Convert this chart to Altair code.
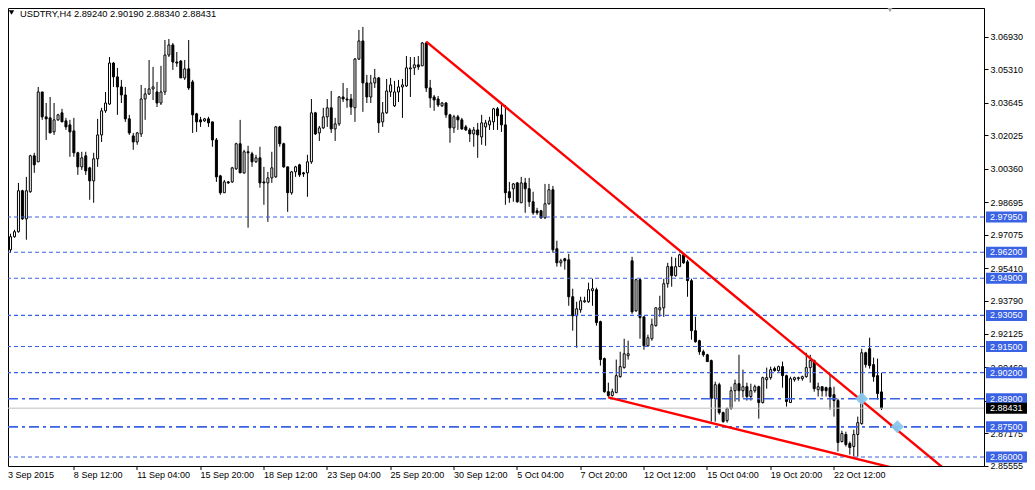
import altair as alt
import pandas as pd

# ---------------- data (USDTRY, H4) ----------------
opens = [2.9632, 2.9697, 2.9722, 2.9926, 2.9786, 2.9921, 3.0100, 3.0070, 3.0418, 3.0294,
         3.0289, 3.0219, 3.0279, 3.0314, 3.0274, 3.0254, 3.0224, 3.0115, 3.0045, 3.0100,
         3.0040, 2.9975, 3.0085, 3.0204, 3.0324, 3.0358, 3.0562, 3.0493, 3.0443, 3.0403,
         3.0284, 3.0199, 3.0169, 3.0209, 3.0383, 3.0408, 3.0433, 3.0418, 3.0363, 3.0418,
         3.0602, 3.0652, 3.0567, 3.0572, 3.0488, 3.0533, 3.0468, 3.0309, 3.0279, 3.0274,
         3.0284, 3.0269, 3.0179, 3.0000, 2.9916, 2.9970, 2.9970, 3.0035, 3.0160, 3.0015,
         3.0120, 3.0110, 3.0070, 3.0090, 2.9970, 2.9965, 2.9990, 2.9995, 3.0244, 3.0160,
         3.0045, 2.9916, 3.0020, 3.0055, 3.0015, 3.0015, 3.0070, 3.0314, 3.0214, 3.0239,
         3.0294, 3.0339, 3.0234, 3.0259, 3.0393, 3.0383, 3.0383, 3.0339, 3.0582, 3.0672,
         3.0463, 3.0393, 3.0463, 3.0488, 3.0269, 3.0314, 3.0418, 3.0349, 3.0418, 3.0443,
         3.0448, 3.0533, 3.0538, 3.0553, 3.0548, 3.0662, 3.0438, 3.0393, 3.0383, 3.0349,
         3.0363, 3.0304, 3.0239, 3.0294, 3.0279, 3.0244, 3.0229, 3.0209, 3.0229, 3.0194,
         3.0244, 3.0254, 3.0269, 3.0334, 3.0304, 3.0254, 2.9921, 2.9936, 2.9965, 2.9866,
         2.9965, 2.9936, 2.9871, 2.9826, 2.9826, 2.9791, 2.9861, 2.9931, 2.9637, 2.9567,
         2.9587, 2.9582, 2.9398, 2.9303, 2.9333, 2.9373, 2.9373, 2.9428, 2.9433, 2.9274,
         2.9090, 2.8925, 2.8906, 2.8920, 2.9000, 2.9045, 2.9104, 2.9577, 2.9328, 2.9483,
         2.9298, 2.9154, 2.9189, 2.9254, 2.9333, 2.9343, 2.9463, 2.9548, 2.9503, 2.9548,
         2.9607, 2.9572, 2.9478, 2.9229, 2.9179, 2.9124, 2.9109, 2.9080, 2.8891, 2.8960,
         2.8821, 2.8781, 2.8841, 2.8930, 2.8965, 2.8930, 2.8950, 2.8901, 2.8930, 2.8950,
         2.8871, 2.8985, 2.8995, 2.9040, 2.9030, 2.9050, 2.9005, 2.8871, 2.8985, 2.8990,
         2.8990, 2.9000, 2.9045, 2.9080, 2.8935, 2.8950, 2.8945, 2.8945, 2.8910, 2.8881,
         2.8677, 2.8712, 2.8667, 2.8652, 2.8712, 2.8766, 2.9119, 2.9139, 2.9060, 2.9005,
         2.89240]
highs = [2.9712, 2.9732, 2.9965, 2.9931, 2.9995, 3.0105, 3.0115, 3.0443, 3.0418, 3.0363,
         3.0393, 3.0363, 3.0309, 3.0334, 3.0289, 3.0279, 3.0289, 3.0120, 3.0120, 3.0120,
         3.0045, 3.0115, 3.0284, 3.0339, 3.0418, 3.0592, 3.0567, 3.0538, 3.0478, 3.0443,
         3.0304, 3.0214, 3.0219, 3.0453, 3.0438, 3.0577, 3.0543, 3.0468, 3.0548, 3.0677,
         3.0682, 3.0662, 3.0617, 3.0577, 3.0577, 3.0677, 3.0478, 3.0314, 3.0294, 3.0289,
         3.0294, 3.0269, 3.0189, 3.0005, 2.9980, 2.9975, 3.0045, 3.0165, 3.0279, 3.0130,
         3.0150, 3.0120, 3.0105, 3.0145, 3.0045, 3.0020, 3.0120, 3.0249, 3.0249, 3.0165,
         3.0045, 3.0025, 3.0050, 3.0060, 3.0020, 3.0105, 3.0383, 3.0319, 3.0249, 3.0339,
         3.0383, 3.0423, 3.0289, 3.0398, 3.0463, 3.0438, 3.0408, 3.0587, 3.0727, 3.0742,
         3.0503, 3.0503, 3.0533, 3.0493, 3.0368, 3.0483, 3.0488, 3.0473, 3.0478, 3.0483,
         3.0597, 3.0592, 3.0592, 3.0597, 3.0667, 3.0669, 3.0478, 3.0403, 3.0398, 3.0368,
         3.0368, 3.0309, 3.0304, 3.0304, 3.0289, 3.0254, 3.0239, 3.0244, 3.0264, 3.0304,
         3.0279, 3.0294, 3.0339, 3.0343, 3.0353, 3.0353, 2.9970, 2.9965, 2.9970, 2.9995,
         2.9990, 2.9990, 2.9921, 2.9841, 2.9831, 2.9960, 2.9960, 2.9950, 2.9677, 2.9587,
         2.9592, 2.9612, 2.9438, 2.9373, 2.9398, 2.9398, 2.9468, 2.9488, 2.9443, 2.9279,
         2.9095, 2.8970, 2.8940, 2.9085, 2.9124, 2.9189, 2.9179, 2.9597, 2.9488, 2.9488,
         2.9298, 2.9209, 2.9289, 2.9343, 2.9403, 2.9488, 2.9567, 2.9597, 2.9592, 2.9612,
         2.9617, 2.9582, 2.9488, 2.9298, 2.9184, 2.9134, 2.9114, 2.9085, 2.8975, 2.8970,
         2.8826, 2.8846, 2.8950, 2.8985, 2.9109, 2.9035, 2.8970, 2.8965, 2.8960, 2.8955,
         2.9000, 2.9045, 2.9050, 2.9050, 2.9055, 2.9075, 2.9010, 2.9000, 2.9000, 2.9000,
         2.9005, 2.9119, 2.9109, 2.9085, 2.8970, 2.8950, 2.8950, 2.9010, 2.8950, 2.8891,
         2.8731, 2.8726, 2.8677, 2.8736, 2.8801, 2.9139, 2.9124, 2.9194, 2.9095, 2.9090,
         2.90190]
lows = [2.9617, 2.9692, 2.9717, 2.9781, 2.9682, 2.9916, 3.0015, 3.0070, 3.0279, 3.0179,
        3.0214, 3.0204, 3.0274, 3.0269, 3.0229, 3.0095, 3.0095, 3.0005, 3.0030, 3.0005,
        2.9881, 2.9866, 3.0045, 3.0169, 3.0314, 3.0353, 3.0443, 3.0304, 3.0363, 3.0269,
        3.0204, 3.0130, 3.0155, 3.0194, 3.0279, 3.0403, 3.0378, 3.0343, 3.0353, 3.0403,
        3.0592, 3.0528, 3.0543, 3.0488, 3.0478, 3.0428, 3.0214, 3.0219, 3.0244, 3.0269,
        3.0244, 3.0145, 2.9970, 2.9906, 2.9916, 2.9960, 2.9965, 3.0030, 3.0015, 3.0010,
        2.9742, 3.0045, 3.0065, 2.9941, 2.9856, 2.9771, 2.9965, 2.9990, 3.0145, 3.0040,
        2.9821, 2.9906, 2.9995, 2.9995, 2.9995, 2.9896, 3.0060, 3.0204, 3.0174, 3.0234,
        3.0244, 3.0214, 3.0174, 3.0249, 3.0368, 3.0339, 3.0304, 3.0269, 3.0577, 3.0319,
        3.0363, 3.0363, 3.0438, 3.0214, 3.0244, 3.0309, 3.0393, 3.0343, 3.0368, 3.0289,
        3.0443, 3.0393, 3.0503, 3.0528, 3.0548, 3.0418, 3.0339, 3.0324, 3.0343, 3.0343,
        3.0289, 3.0165, 3.0214, 3.0229, 3.0229, 3.0224, 3.0169, 3.0145, 3.0090, 3.0155,
        3.0150, 3.0229, 3.0229, 3.0229, 3.0219, 2.9856, 2.9866, 2.9871, 2.9866, 2.9866,
        2.9816, 2.9846, 2.9806, 2.9806, 2.9786, 2.9786, 2.9856, 2.9617, 2.9548, 2.9548,
        2.9533, 2.9353, 2.9229, 2.9144, 2.9318, 2.9368, 2.9368, 2.9353, 2.9254, 2.9055,
        2.8920, 2.8897, 2.8901, 2.8920, 2.8995, 2.9040, 2.9085, 2.9313, 2.9323, 2.9189,
        2.9134, 2.9149, 2.9179, 2.9249, 2.9298, 2.9298, 2.9443, 2.9448, 2.9498, 2.9548,
        2.9562, 2.9398, 2.9184, 2.9169, 2.9109, 2.9099, 2.9075, 2.8776, 2.8776, 2.8811,
        2.8771, 2.8771, 2.8836, 2.8876, 2.8876, 2.8896, 2.8881, 2.8881, 2.8920, 2.8791,
        2.8866, 2.8940, 2.8985, 2.9025, 2.9025, 2.8945, 2.8851, 2.8871, 2.8975, 2.8980,
        2.8980, 2.8995, 2.8970, 2.8925, 2.8901, 2.8901, 2.8901, 2.8836, 2.8801, 2.8627,
        2.8672, 2.8652, 2.8612, 2.8602, 2.8602, 2.8761, 2.9045, 2.9040, 2.8975, 2.8886,
        2.88340]
closes = [2.9697, 2.9722, 2.9926, 2.9786, 2.9926, 3.0100, 3.0055, 3.0418, 3.0294, 3.0284,
          3.0214, 3.0279, 3.0304, 3.0269, 3.0244, 3.0219, 3.0115, 3.0045, 3.0090, 3.0025,
          2.9975, 3.0085, 3.0204, 3.0324, 3.0363, 3.0562, 3.0493, 3.0443, 3.0403, 3.0284,
          3.0214, 3.0169, 3.0214, 3.0383, 3.0408, 3.0433, 3.0443, 3.0363, 3.0418, 3.0602,
          3.0652, 3.0567, 3.0562, 3.0488, 3.0533, 3.0438, 3.0304, 3.0269, 3.0269, 3.0284,
          3.0264, 3.0179, 2.9995, 2.9916, 2.9970, 2.9965, 3.0040, 3.0160, 3.0015, 3.0120,
          3.0115, 3.0070, 3.0090, 2.9965, 2.9965, 2.9990, 3.0040, 3.0244, 3.0160, 3.0045,
          2.9916, 3.0020, 3.0045, 3.0005, 3.0010, 3.0070, 3.0314, 3.0209, 3.0239, 3.0294,
          3.0339, 3.0234, 3.0259, 3.0393, 3.0383, 3.0378, 3.0343, 3.0582, 3.0672, 3.0463,
          3.0393, 3.0463, 3.0488, 3.0264, 3.0314, 3.0423, 3.0453, 3.0418, 3.0443, 3.0453,
          3.0538, 3.0538, 3.0553, 3.0543, 3.0662, 3.0438, 3.0388, 3.0378, 3.0353, 3.0363,
          3.0304, 3.0239, 3.0294, 3.0279, 3.0234, 3.0229, 3.0209, 3.0229, 3.0204, 3.0264,
          3.0264, 3.0274, 3.0334, 3.0299, 3.0254, 2.9916, 2.9891, 2.9960, 2.9871, 2.9965,
          2.9936, 2.9871, 2.9816, 2.9816, 2.9791, 2.9861, 2.9931, 2.9632, 2.9567, 2.9577,
          2.9577, 2.9398, 2.9303, 2.9338, 2.9378, 2.9378, 2.9433, 2.9438, 2.9269, 2.9085,
          2.8925, 2.8906, 2.8925, 2.9005, 2.9050, 2.9114, 2.9114, 2.9323, 2.9483, 2.9294,
          2.9154, 2.9194, 2.9259, 2.9343, 2.9343, 2.9463, 2.9548, 2.9503, 2.9548, 2.9607,
          2.9567, 2.9478, 2.9229, 2.9174, 2.9124, 2.9109, 2.9075, 2.8891, 2.8960, 2.8821,
          2.8776, 2.8841, 2.8930, 2.8965, 2.8930, 2.8950, 2.8901, 2.8930, 2.8950, 2.8871,
          2.8995, 2.8995, 2.9035, 2.9030, 2.9050, 2.9005, 2.8876, 2.8990, 2.8995, 2.8995,
          2.9000, 2.9045, 2.9080, 2.8940, 2.8950, 2.8930, 2.8930, 2.8901, 2.8881, 2.8672,
          2.8717, 2.8662, 2.8647, 2.8712, 2.8771, 2.9119, 2.9060, 2.9055, 2.9000, 2.8916,
          2.88431]

date_labels = ["3 Sep 2015", "8 Sep 12:00", "11 Sep 04:00", "15 Sep 20:00", "18 Sep 12:00",
               "23 Sep 04:00", "25 Sep 20:00", "30 Sep 12:00", "5 Oct 04:00", "7 Oct 20:00",
               "12 Oct 12:00", "15 Oct 04:00", "19 Oct 20:00", "22 Oct 12:00"]
label_step = 16

price_ticks = [3.06930, 3.05310, 3.03645, 3.02025, 3.00360, 2.98695, 2.97075, 2.95410,
               2.93790, 2.92125, 2.90460, 2.88795, 2.87175, 2.85555]

dash_levels = [2.97950, 2.96200, 2.94900, 2.93050, 2.91500, 2.90200, 2.86000]
dashdot_levels = [2.88900, 2.87500]
last_price = 2.88431

trend_upper_i = [105, 246]
trend_upper_p = [3.0669, 2.8376]
trend_lower_i = [151, 246]
trend_lower_p = [2.8897, 2.8433]

marker_i = [215, 224]
marker_p = [2.8890, 2.8750]

title_text = "USDTRY,H4  2.89240 2.90190 2.88340 2.88431"

# ---------------- chart ----------------
W, H = 976, 458
FONT = "Liberation Sans"
BLUE = "#3A62E4"

candles = pd.DataFrame({"i": list(range(len(opens))), "open": opens, "high": highs,
                        "low": lows, "close": closes})

x_scale = alt.Scale(domain=[0.625, 0.625 + W / 4.0], nice=False, zero=False)
y_scale = alt.Scale(domain=[2.8555, 3.08362], nice=False, zero=False)

label_array = "[" + ",".join("'" + s + "'" for s in date_labels) + "]"
x_axis = alt.Axis(values=[label_step * k for k in range(1, len(date_labels))],
                  labelExpr=label_array + "[round(datum.value/" + str(label_step) + ")]",
                  title=None, grid=False, domain=False, tickSize=4, tickColor="black",
                  labelAlign="left", labelBaseline="top", labelPadding=1,
                  labelFont=FONT, labelFontSize=9, labelColor="black",
                  labelOverlap=False, labelFlush=False, translate=0)
y_axis = alt.Axis(orient="right", values=price_ticks, format=".5f", title=None, grid=False,
                  domain=True, domainColor="black", tickSize=4, tickColor="black",
                  labelPadding=2, labelFont=FONT, labelFontSize=9, labelColor="black",
                  labelOverlap=False, labelFlush=False)

X = alt.X("i:Q", scale=x_scale, axis=x_axis)

wicks = alt.Chart(candles).mark_rule(color="black", strokeWidth=1, clip=True).encode(
    x=X, y=alt.Y("low:Q", scale=y_scale, axis=y_axis), y2="high:Q")

bodies = alt.Chart(candles).mark_bar(width=2, stroke="black", strokeWidth=1, clip=True).encode(
    x=X, y=alt.Y("open:Q", scale=y_scale, axis=y_axis), y2="close:Q",
    fill=alt.condition("datum.close > datum.open", alt.value("white"), alt.value("black")))

bid_line = alt.Chart(pd.DataFrame({"p": [last_price]})).mark_rule(
    color="#C0C0C0", strokeWidth=1).encode(y=alt.Y("p:Q", scale=y_scale, axis=y_axis))

dash_lines = alt.Chart(pd.DataFrame({"p": dash_levels})).mark_rule(
    color=BLUE, strokeWidth=1.1, strokeDash=[4, 3]).encode(
    y=alt.Y("p:Q", scale=y_scale, axis=y_axis))

dashdot_lines = alt.Chart(pd.DataFrame({"p": dashdot_levels})).mark_rule(
    color=BLUE, strokeWidth=1.6, strokeDash=[10, 4, 3, 4]).encode(
    y=alt.Y("p:Q", scale=y_scale, axis=y_axis))

trend_df = pd.DataFrame({"i": trend_upper_i + trend_lower_i,
                         "p": trend_upper_p + trend_lower_p,
                         "g": ["up", "up", "low", "low"]})
trends = alt.Chart(trend_df).mark_line(color="red", strokeWidth=2.4, clip=True).encode(
    x=X, y=alt.Y("p:Q", scale=y_scale, axis=y_axis), detail="g:N")

markers = alt.Chart(pd.DataFrame({"i": marker_i, "p": marker_p})).mark_point(
    shape="diamond", filled=True, color="#87C8EE", size=170, opacity=0.95, clip=True).encode(
    x=X, y=alt.Y("p:Q", scale=y_scale, axis=y_axis))

title_mark = alt.Chart(pd.DataFrame({"t": [title_text]})).mark_text(
    align="left", baseline="middle", font=FONT, fontSize=9.3, color="black").encode(
    x=alt.value(12), y=alt.value(5.5), text="t:N")

title_tri = alt.Chart(pd.DataFrame({"t": [1]})).mark_point(
    shape="triangle-down", filled=True, color="black", size=30, opacity=1).encode(
    x=alt.value(3.5), y=alt.value(4.5))

shift_tri = alt.Chart(pd.DataFrame({"t": [1]})).mark_point(
    shape="triangle-down", filled=True, color="#A0A0A0", size=40, opacity=1).encode(
    x=alt.value(882), y=alt.value(1.5))

first_label = alt.Chart(pd.DataFrame({"t": [date_labels[0]]})).mark_text(
    align="left", baseline="top", font=FONT, fontSize=9, color="black").encode(
    x=alt.value(0), y=alt.value(H + 5), text="t:N")

half = 0.00274
box_prices = dash_levels[:6] + dashdot_levels + [dash_levels[6], last_price]
box_colors = [BLUE] * 9 + ["black"]
box_df = pd.DataFrame({"p": box_prices,
                       "lo": [v - half for v in box_prices],
                       "hi": [v + half for v in box_prices],
                       "label": ["%.5f" % v for v in box_prices],
                       "c": box_colors})
boxes = alt.Chart(box_df).mark_rect().encode(
    x=alt.value(W + 2), x2=alt.value(W + 43),
    y=alt.Y("lo:Q", scale=y_scale, axis=y_axis), y2="hi:Q",
    color=alt.Color("c:N", scale=None))
box_text = alt.Chart(box_df).mark_text(
    align="left", baseline="middle", font=FONT, fontSize=9, color="white").encode(
    x=alt.value(W + 6), y=alt.Y("p:Q", scale=y_scale, axis=y_axis), text="label:N")

chart = alt.layer(
    wicks, bodies, bid_line, dash_lines, dashdot_lines, trends, markers,
    title_tri, title_mark, shift_tri, first_label, boxes, box_text
).properties(
    width=W, height=H,
    padding={"left": 0, "top": 0, "right": 43, "bottom": 14},
    autosize=alt.AutoSizeParams(type="none")
).configure(background="white").configure_view(stroke="black", strokeWidth=1)

chart.save("out.html", embed_options={"renderer": "svg", "actions": False})
